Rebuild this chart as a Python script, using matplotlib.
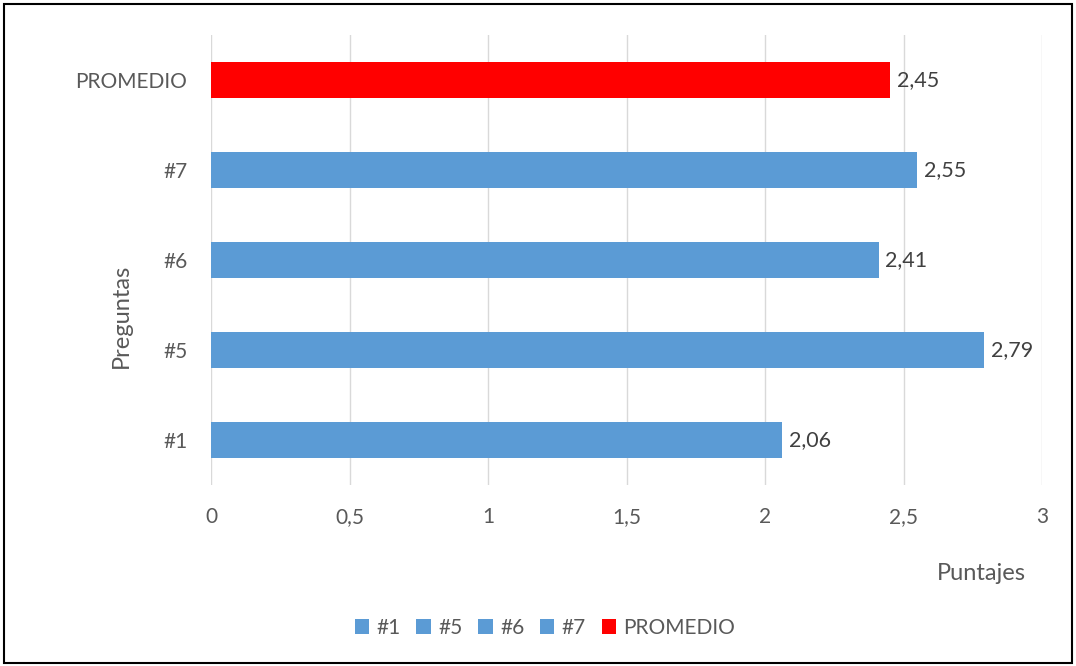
import matplotlib
matplotlib.use("Agg")
import matplotlib.pyplot as plt
from matplotlib.patches import Patch, Rectangle

categories = ["#1", "#5", "#6", "#7", "PROMEDIO"]
values = [2.06, 2.79, 2.41, 2.55, 2.45]
colors = ["#5B9BD5", "#5B9BD5", "#5B9BD5", "#5B9BD5", "#FF0000"]
xticks = [0, 0.5, 1, 1.5, 2, 2.5, 3]
xtick_labels = ["0", "0,5", "1", "1,5", "2", "2,5", "3"]

plt.rcParams['font.family'] = ['Lato', 'DejaVu Sans']
txt = "#595959"
fs = 15

fig = plt.figure(figsize=(10.76, 6.66), dpi=100)
ax = fig.add_axes([211/1076, 1-485/666, 831/1076, 450/666])

ypos = list(range(len(categories)))
ax.barh(ypos, values, height=0.4, color=colors, zorder=3)
for y, v in zip(ypos, values):
    ax.text(v + 0.025, y, f"{v:.2f}".replace(".", ","), va="center", ha="left",
            fontsize=fs + 0.5, color="#404040")

ax.set_xlim(0, 3)
ax.set_ylim(-0.5, 4.5)
ax.set_yticks(ypos)
ax.set_yticklabels(categories)
ax.set_xticks(xticks)
ax.set_xticklabels(xtick_labels)
ax.tick_params(axis="both", length=0, labelsize=fs, colors=txt)
ax.tick_params(axis="x", pad=16)
ax.tick_params(axis="y", pad=17)
ax.grid(axis="x", color="#D9D9D9", linewidth=1, zorder=0)
for s in ax.spines.values():
    s.set_visible(False)

ax.set_ylabel("Preguntas", fontsize=17, color=txt)
ax.yaxis.set_label_coords((132-211)/831, (485-316)/450)
fig.text(981/1076, 1-573/666, "Puntajes", fontsize=17, color=txt, ha="center", va="center")

handles = [Patch(facecolor=c) for c in colors]
fig.legend(handles, categories, loc="center", bbox_to_anchor=(545/1076, 1-628/666),
           ncol=5, frameon=False, fontsize=fs, labelcolor=txt,
           handlelength=0.7, handleheight=0.7, handletextpad=0.35, columnspacing=0.75)

fig.patches.append(Rectangle((4/1076, 3/666), 1068/1076, 659/666, transform=fig.transFigure,
                             fill=False, edgecolor="#000000", linewidth=1.5))

fig.savefig("out.png", dpi=100)
